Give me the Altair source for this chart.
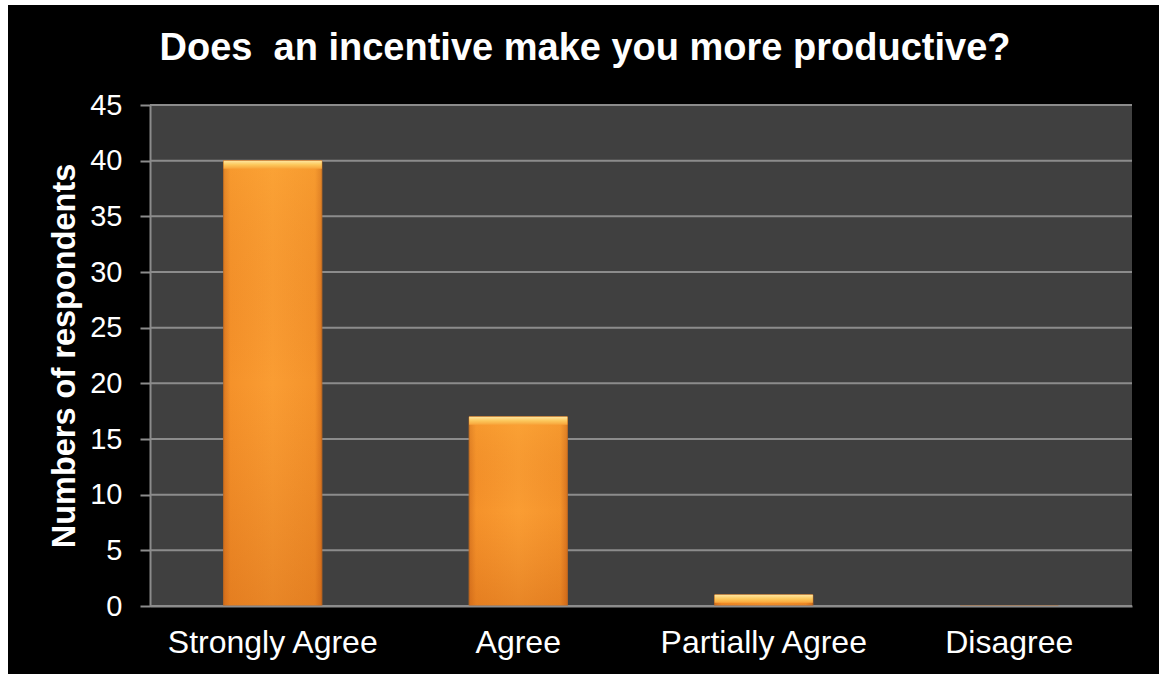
import altair as alt
import pandas as pd

categories = ["Strongly Agree", "Agree", "Partially Agree", "Disagree"]
counts = [40, 17, 1, 0]
y_ticks = [0, 5, 10, 15, 20, 25, 30, 35, 40, 45]
chart_title = "Does\u00a0 an incentive make you more productive?"
y_title = "Numbers of respondents"

W, H = 982, 501
FONT = "Liberation Sans"
GRID = "#8c8c8c"

df = pd.DataFrame({"category": categories, "count": counts})
ticks_df = pd.DataFrame({"count": y_ticks})
one = pd.DataFrame({"t": [chart_title]})

x_enc = alt.X("category:N", sort=categories,
              scale=alt.Scale(paddingInner=0.6, paddingOuter=0.3),
              axis=alt.Axis(title=None, labelAngle=0, labelFontSize=32, labelColor="white",
                            labelFont=FONT, labelPadding=21, labelLimit=400, ticks=False,
                            domainColor=GRID, domainWidth=2, grid=False, zindex=1))
y_scale = alt.Scale(domain=[0, 45], nice=False)
y_axis = alt.Axis(title=y_title, values=y_ticks, labelFontSize=29, labelColor="white",
                  labelFont=FONT, labelPadding=18, tickSize=10, tickColor=GRID,
                  tickWidth=2, domainColor=GRID, domainWidth=2, grid=False,
                  titleFontSize=32.5, titleFontWeight="bold", titleColor="white",
                  titleFont=FONT, titlePadding=8, zindex=1)
y_enc = alt.Y("count:Q", scale=y_scale, axis=y_axis)

black = alt.Chart(one).mark_rect(color="black").encode(
    x=alt.value(-142), x2=alt.value(1009), y=alt.value(-100), y2=alt.value(569))
plotbg = alt.Chart(one).mark_rect(color="#404040").encode(
    x=alt.value(0), x2=alt.value(W), y=alt.value(0), y2=alt.value(H))
title_mark = alt.Chart(one).mark_text(
    font=FONT, fontSize=38, fontWeight="bold", color="white", align="center",
    baseline="alphabetic").encode(x=alt.value(435), y=alt.value(-45), text="t:N")
grid = alt.Chart(ticks_df).mark_rule(color=GRID, strokeWidth=2).encode(y=y_enc)

base_grad = alt.Gradient(
    gradient="linear", x1=0, x2=1, y1=0, y2=0,
    stops=[alt.GradientStop(color="#dc7a22", offset=0),
           alt.GradientStop(color="#f5922a", offset=0.07),
           alt.GradientStop(color="#fa9d33", offset=0.5),
           alt.GradientStop(color="#f4932b", offset=0.93),
           alt.GradientStop(color="#d87520", offset=1)])
bars = alt.Chart(df).mark_bar(color=base_grad, stroke="#c06a20", strokeWidth=1).encode(
    x=x_enc, y=y_enc)
shade_grad = alt.Gradient(
    gradient="linear", x1=0, x2=0, y1=0, y2=1,
    stops=[alt.GradientStop(color="rgba(255,180,60,0.25)", offset=0),
           alt.GradientStop(color="rgba(200,90,20,0.0)", offset=0.5),
           alt.GradientStop(color="rgba(190,80,10,0.3)", offset=1)])
shade = alt.Chart(df).mark_bar(color=shade_grad).encode(x=x_enc, y=y_enc)
hl_grad = alt.Gradient(
    gradient="linear", x1=0, x2=0, y1=0, y2=1,
    stops=[alt.GradientStop(color="#fee6a0", offset=0),
           alt.GradientStop(color="#fcc85c", offset=0.5),
           alt.GradientStop(color="#f8a43a", offset=1)])
highlight = alt.Chart(df).transform_filter("datum.count > 0").mark_bar(
    color=hl_grad, y2Offset=8).encode(x=x_enc, y=y_enc, y2=alt.Y2("count:Q"))

chart = alt.layer(black, plotbg, title_mark, grid, bars, shade, highlight).properties(
    width=W, height=H,
    autosize=alt.AutoSizeParams(type="none"),
    padding={"left": 150, "top": 105, "right": 32, "bottom": 68},
).configure(background="white").configure_view(stroke=None)

chart.save("out.html", embed_options={"renderer": "svg", "actions": False})
